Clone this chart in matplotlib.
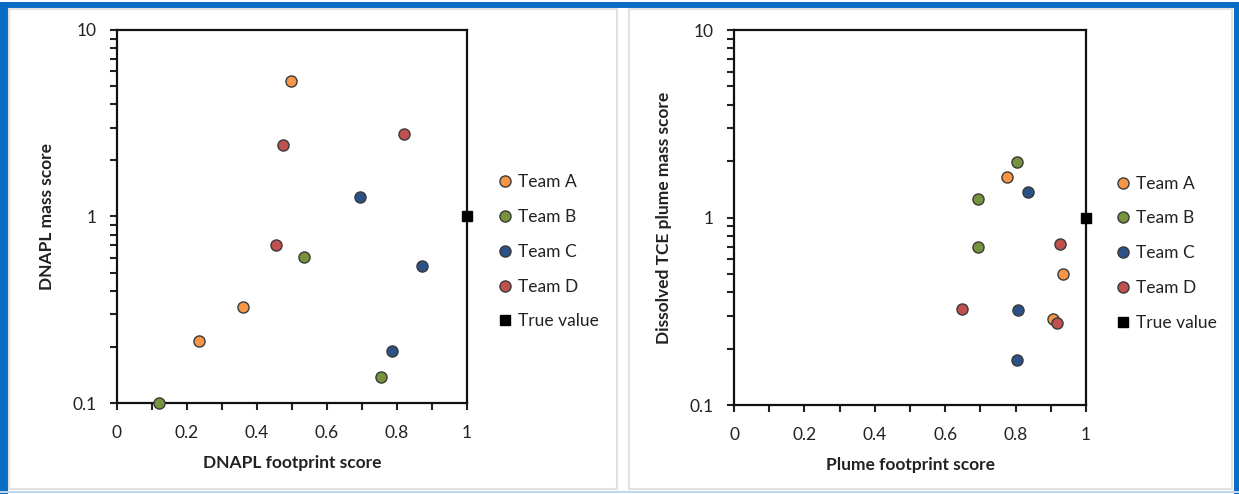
import numpy as np
import matplotlib.pyplot as plt
from matplotlib.patches import Rectangle
from matplotlib.ticker import FixedLocator, NullFormatter

plt.rcParams['font.family'] = ['Lato', 'DejaVu Sans']

# scoruri DNAPL (stanga)
dnapl_a_x = [0.498, 0.360, 0.233]
dnapl_a_y = [5.36, 0.326, 0.214]
dnapl_b_x = [0.535, 0.120, 0.753]
dnapl_b_y = [0.61, 0.10, 0.138]
dnapl_c_x = [0.695, 0.872, 0.787]
dnapl_c_y = [1.27, 0.54, 0.19]
dnapl_d_x = [0.474, 0.819, 0.455]
dnapl_d_y = [2.42, 2.78, 0.70]

# scoruri pana dizolvata TCE (dreapta)
plume_a_x = [0.775, 0.935, 0.906]
plume_a_y = [1.64, 0.50, 0.288]
plume_b_x = [0.805, 0.693, 0.693]
plume_b_y = [1.97, 1.26, 0.70]
plume_c_x = [0.834, 0.807, 0.804]
plume_c_y = [1.37, 0.322, 0.174]
plume_d_x = [0.927, 0.647, 0.918]
plume_d_y = [0.72, 0.324, 0.273]

true_x = [1.0]
true_y = [1.0]

teams = ['Team A', 'Team B', 'Team C', 'Team D']
colors = ['#F79646', '#77933C', '#2A5286', '#C0504D']

W, H = 1239, 494
fig = plt.figure(figsize=(W / 100, H / 100), dpi=100)

# cadrul albastru si panourile gri
def px_rect(x0, y0, x1, y1, **kw):
    fig.patches.append(Rectangle((x0 / W, 1 - y1 / H), (x1 - x0) / W, (y1 - y0) / H,
                                 transform=fig.transFigure, **kw))

px_rect(0, 2, W, 8, color='#0A6CC4', lw=0)
px_rect(0, 2, 8, H, color='#0A6CC4', lw=0)
px_rect(1234, 2, W, H, color='#0A6CC4', lw=0)
px_rect(0, 491, W, 493, color='#BFD8EE', lw=0)
px_rect(9, 9, 617, 489, fill=False, ec='#E2E2E2', lw=1.5)
px_rect(629, 9, 1232, 489, fill=False, ec='#E2E2E2', lw=1.5)

FS = 12.5


def panel(rect, data, xlabel, ylabel, leg_x, leg_y):
    x0, y0, x1, y1 = rect
    ax = fig.add_axes([x0 / W, 1 - y1 / H, (x1 - x0) / W, (y1 - y0) / H])
    for (xs, ys), name, c in zip(data, teams, colors):
        ax.plot(xs, ys, 'o', ms=8, mfc=c, mec='#3A3A3A', mew=1.0, label=name,
                clip_on=False, zorder=3)
    ax.plot(true_x, true_y, 's', ms=7, color='black', label='True value',
            clip_on=False, zorder=3)
    ax.set_yscale('log')
    ax.set_xlim(0, 1)
    ax.set_ylim(0.1, 10)
    ax.set_xticks(np.arange(0, 1.01, 0.2))
    ax.set_xticklabels(['0', '0.2', '0.4', '0.6', '0.8', '1'])
    ax.xaxis.set_minor_locator(FixedLocator(np.arange(0.1, 1.0, 0.2)))
    ax.set_yticks([0.1, 1, 10])
    ax.set_yticklabels(['0.1', '1', '10'])
    minors = [m * d for d in (0.1, 1) for m in range(2, 10)]
    ax.yaxis.set_minor_locator(FixedLocator(minors))
    ax.yaxis.set_minor_formatter(NullFormatter())
    ax.tick_params(which='both', direction='out', length=5, width=1.5, color='#222222')
    ax.tick_params(axis='x', pad=11, labelsize=FS, labelcolor='#222222')
    ax.tick_params(axis='y', pad=10, labelsize=FS, labelcolor='#222222')
    for s in ax.spines.values():
        s.set_linewidth(1.6)
        s.set_color('#111111')
    ax.set_xlabel(xlabel, fontsize=FS, fontweight='bold', color='#222222', labelpad=10)
    ax.set_ylabel(ylabel, fontsize=FS, fontweight='bold', color='#222222', labelpad=12)
    ax.legend(loc='center left', bbox_to_anchor=(leg_x, leg_y), frameon=False,
              fontsize=FS, labelspacing=1.08, handlelength=0.7, handletextpad=0.4,
              borderaxespad=0, labelcolor='#222222')
    return ax


left = panel((117, 30, 467, 403),
             [(dnapl_a_x, dnapl_a_y), (dnapl_b_x, dnapl_b_y),
              (dnapl_c_x, dnapl_c_y), (dnapl_d_x, dnapl_d_y)],
             'DNAPL footprint score', 'DNAPL mass score', 1.072, 0.405)
right = panel((734, 30, 1086, 405),
              [(plume_a_x, plume_a_y), (plume_b_x, plume_b_y),
               (plume_c_x, plume_c_y), (plume_d_x, plume_d_y)],
              'Plume footprint score', 'Dissolved TCE plume mass score', 1.068, 0.405)

plt.savefig('out.png', dpi=100)
